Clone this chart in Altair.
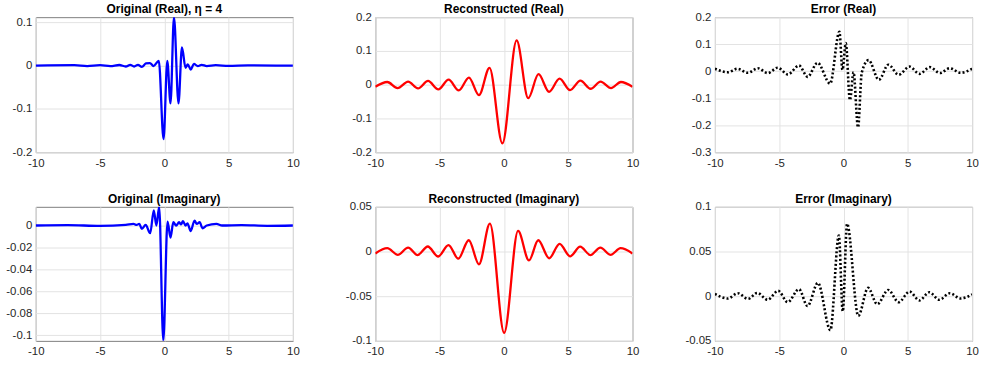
import altair as alt
import pandas as pd

# ---------------- data ----------------
# Original (Real)
ore_x = [-10, -7, -6, -5, -4.2, -3.5, -3.0, -2.65, -2.35, -2.05, -1.75, -1.43, -1.12, -0.84, -0.43,
         -0.06, 0.23, 0.48, 0.75, 1.10, 1.37, 1.65, 1.82, 2.05, 2.3, 2.6, 2.9, 3.3, 4.0, 5.0, 6.5, 10]
ore_y = [0, 0.001, -0.001, 0.001, -0.001, 0.0015, -0.002, 0.002, -0.002, 0.002, -0.003, 0.005, 0.006, -0.001, 0.011,
         -0.170, 0.011, -0.087, 0.112, -0.087, 0.042, -0.005, 0.003, -0.009, 0.004, -0.001, 0.002, -0.001, 0.001, -0.0005, 0.0005, 0]

# Reconstructed (Real)
rre_x = [-10, -9.07, -8.27, -7.45, -6.68, -5.90, -5.10, -4.30, -3.51, -2.72, -1.94, -1.12, -0.12,
         0.99, 1.89, 2.69, 3.51, 4.33, 5.14, 5.95, 6.74, 7.52, 8.33, 9.10, 10]
rre_y = [-0.006, 0.008, -0.010, 0.009, -0.011, 0.011, -0.014, 0.015, -0.017, 0.021, -0.031, 0.050, -0.174,
         0.131, -0.040, 0.031, -0.021, 0.018, -0.016, 0.012, -0.012, 0.009, -0.010, 0.008, -0.006]

# Error (Real)
ere_x = [-10, -9.0, -8.25, -7.43, -6.66, -5.89, -5.12, -4.33, -3.46, -2.79, -2.02, -1.04, -0.32, -0.08,
         0.18, 0.50, 0.78, 1.13, 1.42, 1.95, 2.75, 3.49, 4.29, 5.14, 5.91, 6.72, 7.50, 8.27, 9.10, 10]
ere_y = [0.009, -0.004, 0.009, -0.006, 0.011, -0.007, 0.013, -0.012, 0.021, -0.021, 0.031, -0.046, 0.146, 0.005,
         0.104, -0.107, -0.004, -0.208, -0.005, 0.041, -0.032, 0.024, -0.013, 0.017, -0.010, 0.015, -0.007, 0.011, -0.006, 0.009]

# Original (Imaginary)
oim_x = [-10, -7.5, -5, -3, -2.4, -2.15, -1.95, -1.75, -1.45, -1.10, -0.82, -0.62, -0.40, -0.08,
         0.25, 0.48, 0.70, 0.92, 1.15, 1.30, 1.45, 1.65, 1.80, 2.05, 2.35, 2.52, 2.75, 2.97, 3.3, 4.05, 4.5, 6, 8, 10]
oim_y = [0, 0.0004, -0.0004, 0.0005, 0.0015, 0.0005, 0.0015, -0.003, 0.0005, -0.007, 0.0138, 0.0, 0.0169, -0.105,
         0.0035, -0.011, 0.003, 0.0, 0.003, 0.001, 0.004, 0.0, 0.002, -0.005, 0.0045, 0.0015, 0.003, -0.0025, 0.0, 0.0015, 0, 0.0004, -0.0003, 0]

# Reconstructed (Imaginary)
rim_x = [-10, -9.07, -8.25, -7.45, -6.72, -5.92, -5.12, -4.31, -3.55, -2.73, -1.94, -1.09, 0.02,
         1.10, 1.95, 2.67, 3.52, 4.33, 5.15, 5.93, 6.73, 7.50, 8.30, 9.07, 10]
rim_y = [-0.0022, 0.0037, -0.0037, 0.0044, -0.0040, 0.0056, -0.0056, 0.0072, -0.0080, 0.0126, -0.0143, 0.0311, -0.0911,
         0.0230, -0.0100, 0.0126, -0.0076, 0.0085, -0.0054, 0.0054, -0.0040, 0.0044, -0.0037, 0.0037, -0.0022]

# Error (Imaginary)
eim_x = [-10, -9.0, -8.22, -7.43, -6.70, -5.90, -5.08, -4.34, -3.46, -2.80, -1.99, -1.02, -0.36, -0.06,
         0.28, 1.15, 1.91, 2.62, 3.48, 4.29, 5.14, 5.90, 6.68, 7.45, 8.27, 9.10, 10]
eim_y = [0.0026, -0.0026, 0.0033, -0.0030, 0.0037, -0.0040, 0.0060, -0.0067, 0.0078, -0.0110, 0.0148, -0.0380, 0.0680, -0.0170,
         0.0810, -0.0220, 0.0093, -0.0090, 0.0070, -0.0067, 0.0052, -0.0048, 0.0044, -0.0040, 0.0033, -0.0026, 0.0020]

titles = ["Original (Real), \u03b7 = 4", "Reconstructed (Real)", "Error (Real)",
          "Original (Imaginary)", "Reconstructed (Imaginary)", "Error (Imaginary)"]

x_ticks = [-10, -5, 0, 5, 10]

FONT = "Liberation Sans"
W = 259


def panel(xs, ys, color, title, ydom, yticks, h, dotted=False):
    df = pd.DataFrame({"x": xs, "y": ys})
    kw = dict(color=color, strokeWidth=2.3, interpolate="monotone", clip=True)
    if dotted:
        kw.update(strokeDash=[2, 2.2], strokeWidth=2.6, strokeCap="butt")
    line = alt.Chart(df).mark_line(**kw).encode(
        x=alt.X("x:Q",
                scale=alt.Scale(domain=[-10, 10], nice=False, zero=False),
                axis=alt.Axis(values=x_ticks, title=None, labelExpr="toString(datum.value)",
                              grid=True, ticks=False, tickSize=0, domain=False, labelPadding=5,
                              labelFlush=False, labelOverlap=False)),
        y=alt.Y("y:Q",
                scale=alt.Scale(domain=ydom, nice=False, zero=False),
                axis=alt.Axis(values=yticks, title=None, labelExpr="toString(datum.value)",
                              grid=True, ticks=False, tickSize=0, domain=False, labelPadding=4,
                              labelFlush=False, labelOverlap=False)),
    )
    ttl = alt.Chart(pd.DataFrame({"t": [title]})).mark_text(
        font=FONT, fontSize=12, fontWeight="bold", color="#000000",
        align="center", baseline="alphabetic",
    ).encode(text="t:N", x=alt.value(W / 2), y=alt.value(-4))
    return alt.layer(line, ttl).properties(width=W, height=h)


BLUE = "#0000ff"
RED = "#ff0000"
BLACK = "#000000"

p1 = panel(ore_x, ore_y, BLUE, titles[0], [-0.2, 0.112], [-0.2, -0.1, 0, 0.1], 136)
p2 = panel(rre_x, rre_y, RED, titles[1], [-0.2, 0.2], [-0.2, -0.1, 0, 0.1, 0.2], 136)
p3 = panel(ere_x, ere_y, BLACK, titles[2], [-0.3, 0.2], [-0.3, -0.2, -0.1, 0, 0.1, 0.2], 136, dotted=True)
p4 = panel(oim_x, oim_y, BLUE, titles[3], [-0.105, 0.017], [-0.1, -0.08, -0.06, -0.04, -0.02, 0], 135)
p5 = panel(rim_x, rim_y, RED, titles[4], [-0.1, 0.05], [-0.1, -0.05, 0, 0.05], 135)
p6 = panel(eim_x, eim_y, BLACK, titles[5], [-0.05, 0.1], [-0.05, 0, 0.05, 0.1], 135, dotted=True)

chart = alt.concat(p1, p2, p3, p4, p5, p6, columns=3,
                   spacing={"row": 55, "column": 83}, bounds="flush").properties(
    padding={"left": 5, "top": 1, "right": 5, "bottom": 5},
    background="#ffffff",
).configure_view(
    stroke="#7f7f7f", strokeWidth=1
).configure_axis(
    labelFont=FONT, labelFontSize=11.5, labelColor="#262626",
    gridColor="#e3e3e3", gridWidth=1,
)

chart.save("out.html", embed_options={"renderer": "svg", "actions": False})
